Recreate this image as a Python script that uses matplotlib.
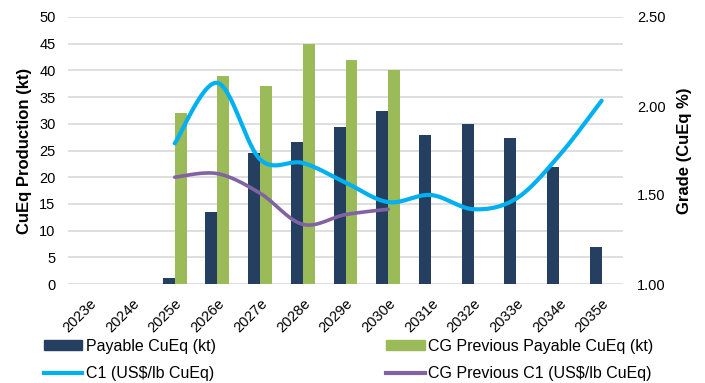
import numpy as np
import matplotlib
matplotlib.use("Agg")
from matplotlib import pyplot as plt
from matplotlib.lines import Line2D
from matplotlib.patches import Patch

plt.rcParams['font.family'] = ['Liberation Sans', 'DejaVu Sans']

years = ['2023e', '2024e', '2025e', '2026e', '2027e', '2028e', '2029e',
         '2030e', '2031e', '2032e', '2033e', '2034e', '2035e']
payable = [0, 0, 1.1, 13.4, 24.6, 26.6, 29.4, 32.4, 27.9, 29.9, 27.4, 21.9, 7.0]
cg_payable = [None, None, 32, 39, 37, 45, 42, 40, None, None, None, None, None]
c1 = [None, None, 1.79, 2.13, 1.70, 1.68, 1.57, 1.46, 1.50, 1.42, 1.48, 1.72, 2.03]
cg_c1 = [None, None, 1.60, 1.62, 1.51, 1.335, 1.39, 1.42,
         None, None, None, None, None]

navy = '#243F60'
green = '#9BBB59'
cyan = '#00B0F0'
purple = '#8064A2'


def smooth(xs, ys, n=30):
    # Excel-style smoothed line: cubic Bezier segments with Catmull-Rom tangents
    xs = np.asarray(xs, float)
    ys = np.asarray(ys, float)
    px, py = [], []
    for i in range(len(xs) - 1):
        x0, y0 = (xs[i - 1], ys[i - 1]) if i > 0 else (xs[i], ys[i])
        x3, y3 = (xs[i + 2], ys[i + 2]) if i + 2 < len(xs) else (xs[i + 1], ys[i + 1])
        c1x = xs[i] + (xs[i + 1] - x0) / 6
        c1y = ys[i] + (ys[i + 1] - y0) / 6
        c2x = xs[i + 1] - (x3 - xs[i]) / 6
        c2y = ys[i + 1] - (y3 - ys[i]) / 6
        t = np.linspace(0, 1, n)
        px.append((1-t)**3*xs[i] + 3*(1-t)**2*t*c1x + 3*(1-t)*t**2*c2x + t**3*xs[i+1])
        py.append((1-t)**3*ys[i] + 3*(1-t)**2*t*c1y + 3*(1-t)*t**2*c2y + t**3*ys[i+1])
    return np.concatenate(px), np.concatenate(py)


fig = plt.figure(figsize=(7.05, 3.83), dpi=100)
ax = fig.add_axes([68/705, 1-284/383, 555/705, 267/383])
ax2 = ax.twinx()

x = np.arange(len(years))
w = 0.28
ax.bar(x - w/2, payable, w, color=navy, zorder=2)
gx = [i for i, v in enumerate(cg_payable) if v is not None]
ax.bar(np.array(gx) + w/2, [cg_payable[i] for i in gx], w, color=green, zorder=2)

ax.set_xlim(-0.5, len(years) - 0.5)
ax.set_ylim(0, 50)
ax.set_yticks(np.arange(0, 51, 5))
ax.yaxis.grid(True, color='#d9d9d9', linewidth=1.2, zorder=0)
ax.set_axisbelow(True)
ax.set_xticks(x)
ax.set_xticklabels(years, rotation=45, ha='right', rotation_mode='anchor')
ax.tick_params(length=0, labelsize=10.5, colors='#000000')
ax.tick_params(axis='x', pad=9)
ax.tick_params(axis='y', pad=9)
ax.set_ylabel('CuEq Production (kt)', fontsize=12, fontweight='bold', labelpad=5)

cx = [i for i, v in enumerate(c1) if v is not None]
sx, sy = smooth(cx, [c1[i] for i in cx])
ax2.plot(sx, sy, color=cyan, linewidth=3, solid_capstyle='round', zorder=3)
px = [i for i, v in enumerate(cg_c1) if v is not None]
sx, sy = smooth(px, [cg_c1[i] for i in px])
ax2.plot(sx, sy, color=purple, linewidth=2.6, solid_capstyle='round', zorder=3)

ax2.set_ylim(1.0, 2.5)
ax2.set_yticks([1.0, 1.5, 2.0, 2.5])
ax2.set_yticklabels(['1.00', '1.50', '2.00', '2.50'])
ax2.tick_params(length=0, labelsize=10.5, pad=10)
ax2.set_ylabel('Grade (CuEq %)', fontsize=12, fontweight='bold', labelpad=8)

for a in (ax, ax2):
    for s in a.spines.values():
        s.set_visible(False)

handles = [Patch(color=navy), Line2D([], [], color=cyan, linewidth=3),
           Patch(color=green), Line2D([], [], color=purple, linewidth=3)]
labels = ['Payable CuEq (kt)', 'C1 (US$/lb CuEq)',
          'CG Previous Payable CuEq (kt)', 'CG Previous C1 (US$/lb CuEq)']
fig.legend(handles, labels, ncol=2, loc='upper left',
           bbox_to_anchor=(36/705, 1-331/383), frameon=False, fontsize=11.5,
           handlelength=2.4, handleheight=0.6, handletextpad=0.2,
           columnspacing=10.7, labelspacing=0.75, borderpad=0)

fig.savefig('out.png', dpi=100)
